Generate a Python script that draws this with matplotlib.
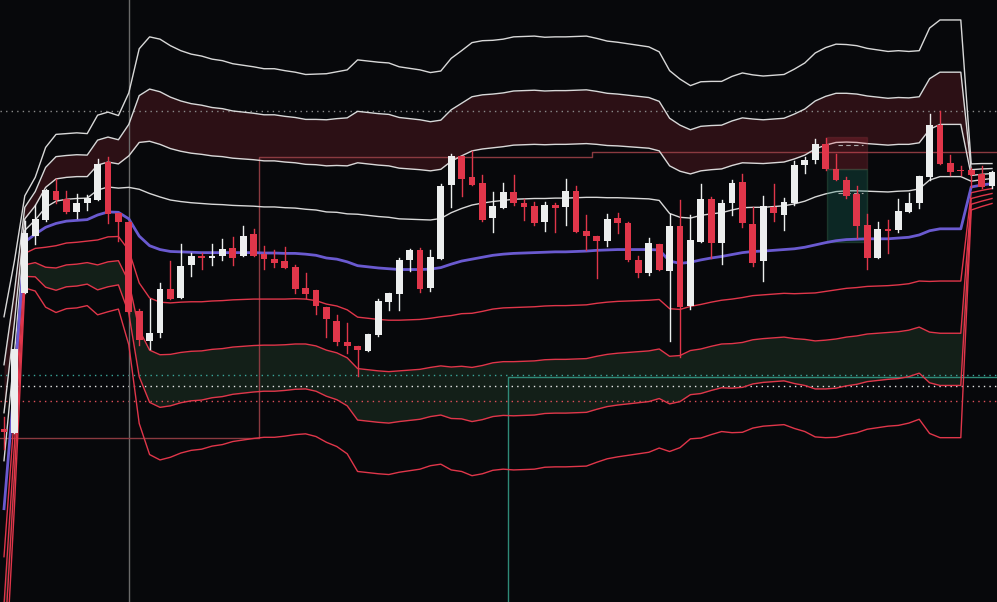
import numpy as np
import matplotlib
matplotlib.use("Agg")
import matplotlib.pyplot as plt
from matplotlib.patches import Rectangle

# price scale in chart units (inverted axis, larger = lower price)
opens = [1118,1128,762,615,573,497,518,552,528,520,423,555,578,810,888,868,753,775,690,667,673,667,646,668,609,662,675,680,695,750,755,800,
         836,891,902,913,872,786,765,676,651,749,674,483,406,461,477,569,541,500,529,537,577,534,538,497,602,615,629,568,581,677,711,636,
         705,589,797,630,518,632,530,474,583,681,539,559,528,431,418,375,440,469,505,586,673,597,598,551,528,461,325,425,443,443,453,485]
closes = [1124,910,608,570,495,522,552,528,517,427,557,577,812,885,867,752,778,693,668,673,667,649,671,615,666,675,685,697,752,767,796,832,
          892,900,912,870,784,762,677,651,752,669,484,406,467,481,573,537,500,530,538,580,534,541,497,603,614,629,570,582,676,710,633,704,
          589,799,625,518,632,529,476,582,684,537,556,525,430,417,375,441,470,510,588,673,596,601,550,528,459,326,426,447,443,456,488,448]
highs = [1085,910,575,535,492,467,497,505,508,413,408,555,575,805,780,737,680,635,660,660,636,623,617,588,597,640,651,643,690,712,755,800,
         820,840,902,870,780,762,672,648,645,652,480,400,406,393,457,500,477,457,518,525,527,530,466,485,560,615,557,555,578,668,620,636,
         557,520,560,478,512,520,470,453,540,511,478,517,420,410,362,360,400,460,485,558,577,573,518,503,459,296,290,405,432,437,433,446]
lows = [1170,1128,762,635,576,530,555,568,546,520,582,627,815,898,910,878,778,775,720,700,690,677,690,668,666,700,695,697,762,776,818,877,
        898,920,980,913,875,808,808,705,760,757,674,540,510,483,575,603,541,533,572,585,601,603,585,603,652,725,642,608,680,722,715,704,
        887,930,805,630,673,687,560,592,693,733,576,600,535,450,425,443,470,517,620,700,673,658,605,551,543,468,428,455,455,486,490,490]
mid = [1325,1000,630,610,592,582,576,574,572,560,552,553,570,615,640,650,655,656,657,658,658,658,658,658,658,659,659,660,660,662,665,672,
       675,682,692,695,698,700,702,702,702,701,697,688,680,675,670,665,662,660,659,658,657,656,656,655,654,652,651,650,650,650,650,651,
       680,686,683,677,672,668,663,658,655,654,652,650,648,644,638,632,627,624,623,622,622,622,620,618,612,601,596,596,596,487,482,478]
sdev = [125,80,30,37,52,58,57,57,56,65,65,63,82,122,136,137,134,131,129,128,126,125,123,122,121,120,120,119,118,117,118,120,
        122,125,134,134,134,134,132,131,130,128,128,134,137,141,141,140,140,141,141,141,140,140,140,140,140,138,136,135,134,133,132,129,
        124,120,115,116,115,114,116,117,115,114,114,114,117,120,125,127,128,127,126,124,123,122,122,121,120,132,136,136,136,15,14,13]
band_mults = [1, 2, 3, 4]
hlines_dotted = [(290, "#8a8a8a"), (978, "#3aa69a"), (1006, "#e8e8e8"), (1045, "#e0505a")]

BG = "#07080b"; RED = "#e0364a"; WHITE = "#eceeee"
fig = plt.figure(figsize=(9.97, 6.02), dpi=100, facecolor=BG)
ax = fig.add_axes([0, 0, 1, 1], facecolor=BG)
x = np.arange(len(opens))
mid_a = np.array(mid, float); sd_a = np.array(sdev, float)

# fills
ax.fill_between(x[:94], (mid_a - 3*sd_a)[:94], (mid_a - 2*sd_a)[:94], color="#2c1015", lw=0, zorder=1)
ax.fill_between(x[:94], (mid_a + 2*sd_a)[:94], (mid_a + 3*sd_a)[:94], color="#131f18", lw=0, zorder=1)
for k in band_mults:
    ax.plot(x, mid_a - k*sd_a, color="#d8d8d8", lw=1, zorder=2)
    ax.plot(x, mid_a + k*sd_a, color=RED, lw=1, zorder=2)
ax.plot(x, mid_a, color="#6a5ad0", lw=2, zorder=3)

for y, c in hlines_dotted:
    ax.axhline(y, color=c, lw=1, ls=(0, (1, 3)), zorder=1.5)

# drawing objects
ax.axvline(12.0, color="#6a6a6a", lw=1, zorder=1.5)
ax.plot([-1, 24.5, 24.5, 56.5, 56.5, 96], [1140, 1140, 410, 410, 395, 395], color="#8a3a40", lw=1, zorder=1.5)
ax.plot([48.5, 48.5, 96], [1568, 983, 983], color="#2f8a78", lw=1, zorder=1.5)
ax.add_patch(Rectangle((79.1, 357), 3.9, 84, facecolor="#e0364a", alpha=0.22, edgecolor="#a04048", lw=1, zorder=2.5))
ax.add_patch(Rectangle((79.1, 441), 3.9, 189, facecolor="#1a7a68", alpha=0.28, edgecolor="#4a8a60", lw=1, zorder=2.5))
ax.plot([80.2, 82.6], [378, 378], color="#aaaaaa", lw=0.8, ls=(0, (4, 3)), zorder=2.6)
ax.plot([80.2, 82.6], [503, 503], color="#aaaaaa", lw=0.8, ls=(0, (4, 3)), zorder=2.6)

for i in range(len(opens)):
    o, c, h, l = opens[i], closes[i], highs[i], lows[i]
    col = WHITE if c < o else RED
    ax.plot([i, i], [h, l], color=col, lw=1, zorder=4)
    top, bot = min(o, c), max(o, c)
    ax.add_patch(Rectangle((i - 0.33, top), 0.66, max(bot - top, 2), facecolor=col, edgecolor=col, lw=0, zorder=5))

ax.set_xlim(-0.385, 95.48)
ax.set_ylim(1568, 0)
ax.axis("off")
fig.savefig("out.png", dpi=100, facecolor=BG)
